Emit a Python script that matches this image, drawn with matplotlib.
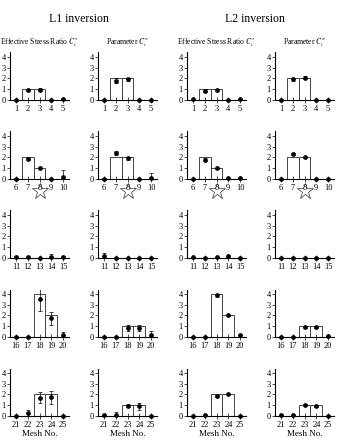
import matplotlib
matplotlib.use("Agg")
import matplotlib.pyplot as plt
import numpy as np

plt.rcParams['font.family'] = ['Liberation Serif', 'DejaVu Serif']
plt.rcParams['mathtext.fontset'] = 'stix'

# mesh numbers per row
mesh_rows = [[1, 2, 3, 4, 5], [6, 7, 8, 9, 10], [11, 12, 13, 14, 15],
             [16, 17, 18, 19, 20], [21, 22, 23, 24, 25]]

# true values (bars)
true_ratio = [[0, 1, 1, 0, 0], [0, 2, 1, 0, 0], [0, 0, 0, 0, 0],
              [0, 0, 4, 2, 0], [0, 0, 2, 2, 0]]
true_param = [[0, 2, 2, 0, 0], [0, 2, 2, 0, 0], [0, 0, 0, 0, 0],
              [0, 0, 1, 1, 0], [0, 0, 1, 1, 0]]

# L1 inversion estimates and errors
l1_ratio = [[0, 0.9, 0.95, 0, 0.05], [0, 1.85, 1.0, 0, 0.2], [0.1, 0.05, 0, 0.1, 0.05],
            [0, 0, 3.5, 1.75, 0.15], [0, 0.25, 1.7, 1.75, 0]]
l1_ratio_err = [[0.03, 0.1, 0.15, 0.03, 0.05], [0.03, 0.1, 0.06, 0.03, 0.6],
                [0.05, 0.15, 0.02, 0.3, 0.05], [0.03, 0.03, 1.1, 0.6, 0.3],
                [0.03, 0.35, 0.5, 0.6, 0.03]]
l1_param = [[0, 1.8, 1.9, 0, 0], [0, 2.4, 1.9, 0, 0.1], [0.15, 0, 0, 0, 0],
            [0, 0, 0.85, 0.85, 0.15], [0.05, 0.1, 0.95, 0.9, 0]]
l1_param_err = [[0.03, 0.2, 0.15, 0.03, 0.03], [0.03, 0.2, 0.1, 0.03, 0.45],
                [0.3, 0.03, 0.03, 0.03, 0.03], [0.03, 0.03, 0.3, 0.25, 0.45],
                [0.05, 0.25, 0.15, 0.3, 0.03]]

# L2 inversion estimates and errors
l2_ratio = [[0.05, 0.85, 0.9, 0, 0.05], [0, 1.8, 1.0, 0.05, 0.05], [0.05, 0, 0.05, 0.15, 0],
            [0, 0, 3.85, 2.0, 0.2], [0, 0.05, 1.85, 2.0, 0]]
l2_ratio_err = [[0.03, 0.15, 0.1, 0.03, 0.03], [0.03, 0.15, 0.05, 0.03, 0.03],
                [0.03, 0.03, 0.03, 0.05, 0.03], [0.03, 0.03, 0.1, 0.08, 0.05],
                [0.03, 0.05, 0.1, 0.08, 0.03]]
l2_param = [[0, 1.9, 2.05, 0, 0], [0, 2.3, 2.0, 0, 0], [0, 0, 0, 0, 0],
            [0, 0, 0.95, 0.9, 0.05], [0.05, 0.05, 1.05, 0.95, 0]]
l2_param_err = [[0.03, 0.1, 0.15, 0.03, 0.03], [0.03, 0.08, 0.08, 0.03, 0.03],
                [0.03, 0.03, 0.03, 0.03, 0.03], [0.03, 0.03, 0.08, 0.08, 0.05],
                [0.03, 0.05, 0.1, 0.08, 0.03]]

yticks = [0, 1, 2, 3, 4]
star_mesh = 8

W, H = 341, 448
fig = plt.figure(figsize=(W / 100, H / 100), dpi=100)

col_left = [10, 98, 187, 275]
row_zero = [100, 179, 258, 337, 416]
ax_w, ax_h = 59, 47.5

columns = [(true_ratio, l1_ratio, l1_ratio_err), (true_param, l1_param, l1_param_err),
           (true_ratio, l2_ratio, l2_ratio_err), (true_param, l2_param, l2_param_err)]

for c, (truth, est, err) in enumerate(columns):
    for r in range(5):
        ax = fig.add_axes([col_left[c] / W, 1 - row_zero[r] / H, ax_w / W, ax_h / H])
        x = np.arange(1, 6)
        ax.bar(x, truth[r], width=1.0, color='white', edgecolor='#444444', linewidth=0.7)
        line, caps, bars = ax.errorbar(x, est[r], yerr=err[r], fmt='o', color='black',
                                       ms=2.4, elinewidth=0.5, capsize=1.5, capthick=0.5)
        line.set_clip_on(False)
        ax.set_xlim(0.5, 5.5)
        ax.set_ylim(0, 4.4)
        ax.set_xticks(x)
        ax.set_xticklabels([str(m) for m in mesh_rows[r]])
        ax.set_yticks(yticks)
        for s in ['top', 'right']:
            ax.spines[s].set_visible(False)
        ax.spines['left'].set_linewidth(0.8)
        ax.spines['bottom'].set_linewidth(0.8)
        ax.tick_params(axis='x', direction='inout', length=4, width=0.5, labelsize=6, pad=1.5)
        ax.tick_params(axis='y', direction='out', length=2, width=0.5, labelsize=6, pad=1)
        if star_mesh in mesh_rows[r]:
            i = mesh_rows[r].index(star_mesh)
            ax.plot(x[i], -0.25, marker='*', ms=12, mfc='none', mec='#333333', mew=0.5,
                    transform=ax.get_xaxis_transform(), clip_on=False)
        if r == 0:
            label = r'Effective Stress Ratio $C^{\tau}_{i}$' if c % 2 == 0 else r'Parameter $C^{\sigma}_{i}$'
            ax.set_title(label, fontsize=5.5, pad=6)
        if r == 4:
            ax.set_xlabel('Mesh No.', fontsize=6.5, labelpad=1)

fig.text(79 / W, 1 - 19 / H, 'L1 inversion', fontsize=8.5, ha='center', va='center')
fig.text(255 / W, 1 - 19 / H, 'L2 inversion', fontsize=8.5, ha='center', va='center')

fig.savefig('out.png', dpi=100)
